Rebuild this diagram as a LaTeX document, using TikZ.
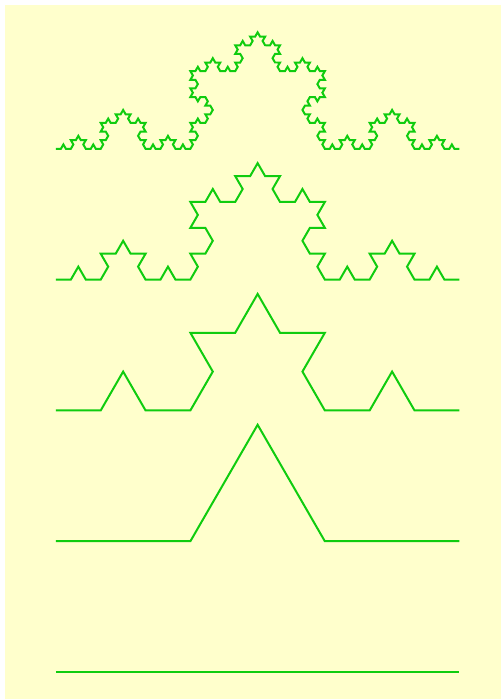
\documentclass[tikz,border=0pt]{standalone}
\usetikzlibrary{decorations.fractals}
\definecolor{paleyellow}{RGB}{255,255,204}
\definecolor{kochgreen}{RGB}{15,204,15}
\tikzset{koch/.style={kochgreen,line width=2pt,decoration=Koch snowflake}}

\begin{document}
\begin{tikzpicture}[x=1pt,y=-1pt]
  \fill[white] (0,0) rectangle (501,699);
  \fill[paleyellow] (4,4) rectangle (501,699);
  % step 0 at the bottom, step 4 at the top
  \draw[koch] (55,672) -- (459,672);
  \draw[koch] decorate{(55,541) -- (459,541)};
  \draw[koch] decorate{decorate{(55,410) -- (459,410)}};
  \draw[koch] decorate{decorate{decorate{(55,279) -- (459,279)}}};
  \draw[koch] decorate{decorate{decorate{decorate{(55,148) -- (459,148)}}}};
\end{tikzpicture}
\end{document}
